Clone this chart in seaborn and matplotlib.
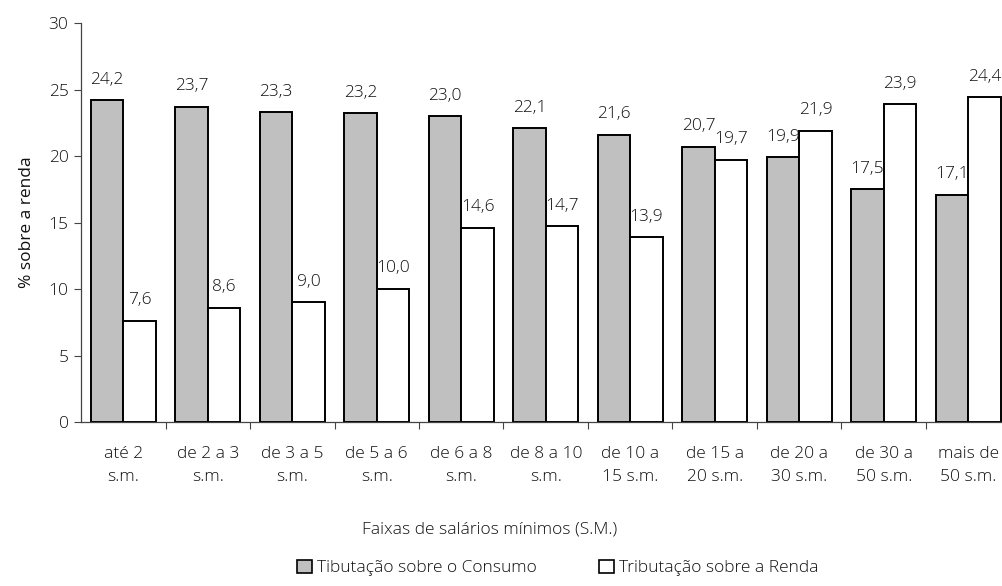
import matplotlib
matplotlib.use("Agg")
import matplotlib.pyplot as plt
import seaborn as sns
import pandas as pd
from matplotlib.patches import Patch
from matplotlib.ticker import FixedLocator

# Income brackets (in minimum wages) and tax burden as % of income
faixas = ["até 2\ns.m.", "de 2 a 3\ns.m.", "de 3 a 5\ns.m.", "de 5 a 6\ns.m.",
          "de 6 a 8\ns.m.", "de 8 a 10\ns.m.", "de 10 a\n15 s.m.", "de 15 a\n20 s.m.",
          "de 20 a\n30 s.m.", "de 30 a\n50 s.m.", "mais de\n50 s.m."]
consumo = [24.2, 23.7, 23.3, 23.2, 23.0, 22.1, 21.6, 20.7, 19.9, 17.5, 17.1]
renda = [7.6, 8.6, 9.0, 10.0, 14.6, 14.7, 13.9, 19.7, 21.9, 23.9, 24.4]
series = ["Tibutação sobre o Consumo", "Tributação sobre a Renda"]
cores = ["#C0C0C0", "#FFFFFF"]

df = pd.DataFrame({
    "faixa": faixas * 2,
    "valor": consumo + renda,
    "serie": [series[0]] * len(faixas) + [series[1]] * len(faixas),
})

sns.set_theme(style="white")
plt.rcParams["font.family"] = ["Open Sans", "DejaVu Sans"]
plt.rcParams["font.weight"] = "light"
TXT = "#111111"
plt.rcParams["text.color"] = TXT

FS = 12.5
W, H = 1003, 586
fig = plt.figure(figsize=(W / 100, H / 100), dpi=100)
left, right, top, bottom = 81, 1010.5, 23, 422
ax = fig.add_axes([left / W, 1 - bottom / H, (right - left) / W, (bottom - top) / H])

sns.barplot(data=df, x="faixa", y="valor", hue="serie", order=faixas,
            hue_order=series, palette=cores, width=0.77, gap=0,
            edgecolor="black", linewidth=1.4, legend=False, ax=ax)

# value labels with a comma as decimal separator
for cont in ax.containers:
    for bar, v in zip(cont, cont.datavalues):
        ax.annotate(f"{v:.1f}".replace(".", ","),
                    (bar.get_x() + bar.get_width() / 2, bar.get_height()),
                    xytext=(0, 9), textcoords="offset points",
                    ha="center", va="bottom", fontsize=FS, color=TXT)

ax.set_xlim(-0.5, len(faixas) - 0.5)
ax.set_ylim(0, 30)
ax.set_yticks(range(0, 31, 5))
ax.tick_params(axis="y", labelsize=FS, length=5, width=0.8, direction="out",
               left=True, colors=TXT, pad=4)
ax.tick_params(axis="y", color="#444444")

# category ticks between groups, labels centred under groups
ax.xaxis.set_major_locator(FixedLocator([i + 0.5 for i in range(len(faixas))]))
ax.set_xticklabels([])
ax.xaxis.set_minor_locator(FixedLocator(list(range(len(faixas)))))
ax.set_xticklabels(faixas, minor=True)
ax.tick_params(axis="x", which="major", length=5, width=0.8, direction="out",
               bottom=True, color="#444444")
ax.tick_params(axis="x", which="minor", length=0, pad=17, labelsize=FS,
               labelcolor=TXT)
for lab in ax.get_xticklabels(minor=True):
    lab.set_linespacing(1.6)

sns.despine(ax=ax)
for s in ("left", "bottom"):
    ax.spines[s].set_color("#444444")
    ax.spines[s].set_linewidth(0.9)

ax.set_xlabel("")
ax.set_ylabel("% sobre a renda", fontsize=FS, labelpad=10, color=TXT)
fig.text(490 / W, 1 - 530 / H, "Faixas de salários mínimos (S.M.)",
         ha="center", va="center", fontsize=FS, color=TXT)

handles = [Patch(facecolor=c, edgecolor="black", linewidth=1.2) for c in cores]
fig.legend(handles, series, loc="center", bbox_to_anchor=(558 / W, 1 - 568 / H),
           ncol=2, frameon=False, fontsize=FS, handlelength=0.85,
           handleheight=0.85, handletextpad=0.3, columnspacing=3.6)

fig.savefig("out.png", dpi=100)
